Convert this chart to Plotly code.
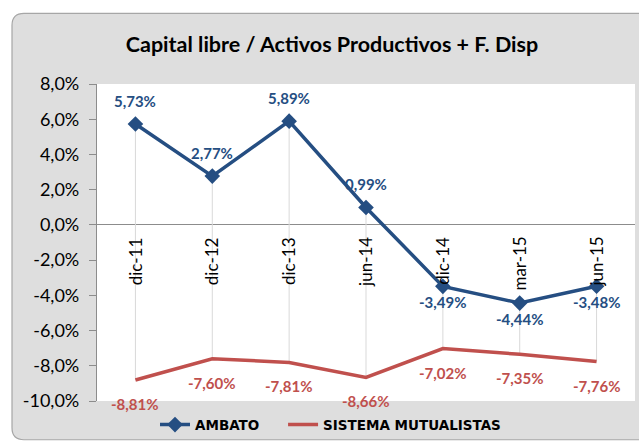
import plotly.graph_objects as go

categories = ["dic-11", "dic-12", "dic-13", "jun-14", "dic-14", "mar-15", "jun-15"]
ambato = [5.73, 2.77, 5.89, 0.99, -3.49, -4.44, -3.48]
sistema = [-8.81, -7.60, -7.81, -8.66, -7.02, -7.35, -7.76]
y_ticks = [8, 6, 4, 2, 0, -2, -4, -6, -8, -10]

BLUE = "#254E82"
RED = "#C0504D"
NUMFONT = "Lato"

W, H = 639, 444
L, T = 97, 84
R = W - 635
B = H - 403
pw, ph = W - L - R, H - T - B


def px_x(xr):  # window x -> paper fraction
    return (xr - L) / pw


def px_y(yr):  # window y -> paper fraction
    return (H - B - yr) / ph


def fmt(v):
    return f"{v:.2f}".replace(".", ",") + "%"


def fmt_tick(v):
    return f"{v:.1f}".replace(".", ",") + "%"


fig = go.Figure()

# high-low lines
hx, hy = [], []
for c, a, s in zip(categories, ambato, sistema):
    hx += [c, c, None]
    hy += [max(a, s), min(a, s), None]
fig.add_trace(go.Scatter(x=hx, y=hy, mode="lines", line=dict(color="#D9D9D9", width=1),
                         showlegend=False, hoverinfo="skip"))

fig.add_trace(go.Scatter(x=categories, y=ambato, name="AMBATO\u00a0\u00a0\u00a0\u00a0",
                         mode="lines+markers",
                         line=dict(color=BLUE, width=3.5),
                         marker=dict(symbol="diamond", size=12, color=BLUE)))
fig.add_trace(go.Scatter(x=categories, y=sistema, name="SISTEMA MUTUALISTAS", mode="lines",
                         line=dict(color=RED, width=3.5)))

ann = []
for c, v in zip(categories, ambato):
    ann.append(dict(x=c, y=v, text=fmt(v), showarrow=False, yanchor="middle",
                    yshift=23 if v >= 0 else -16,
                    font=dict(family=NUMFONT, size=15, color=BLUE, weight="bold")))
for c, v in zip(categories, sistema):
    ann.append(dict(x=c, y=v, text=fmt(v), showarrow=False, yanchor="middle", yshift=-24,
                    font=dict(family=NUMFONT, size=15, color=RED, weight="bold")))
for c in categories:
    ann.append(dict(x=c, y=0, text=c, showarrow=False, textangle=-90, yanchor="top",
                    xanchor="center", yshift=-10,
                    font=dict(family=NUMFONT, size=17, color="#000000")))

# gray rounded chart background (paper coordinates)
x0, x1 = px_x(12), px_x(660)
y1, y0 = px_y(13), px_y(442)
rx, ry = 12 / pw, 12 / ph
path = (f"M {x0+rx},{y1} L {x1},{y1} L {x1},{y0} L {x0+rx},{y0} "
        f"Q {x0},{y0} {x0},{y0+ry} L {x0},{y1-ry} Q {x0},{y1} {x0+rx},{y1} Z")

fig.update_layout(
    width=W, height=H,
    margin=dict(l=L, r=R, t=T, b=B),
    paper_bgcolor="white",
    plot_bgcolor="white",
    shapes=[dict(type="path", path=path, xref="paper", yref="paper", layer="below",
                 fillcolor="#DEDEDE", line=dict(color="#A6A6A6", width=1.2)),
            dict(type="rect", x0=0, x1=1, y0=0, y1=1, xref="paper", yref="paper",
                 layer="below", fillcolor="white", line=dict(width=0))],
    annotations=ann,
    title=dict(text="<b>Capital libre / Activos Productivos + F. Disp</b>",
               x=px_x(332), xref="paper", xanchor="center",
               y=1 - 44 / H, yref="container", yanchor="middle",
               font=dict(family=NUMFONT, size=21.5, color="#000000")),
    showlegend=True,
    legend=dict(orientation="h", x=px_x(155), xanchor="left",
                y=px_y(427), yanchor="middle", yref="paper",
                bgcolor="rgba(0,0,0,0)",
                font=dict(family="DejaVu Sans", size=13.5, color="#000000", weight="bold"),
                tracegroupgap=0),
    xaxis=dict(type="category", range=[-0.5, 6.5], showgrid=False, showticklabels=False,
               zeroline=False, showline=False, ticks=""),
    yaxis=dict(range=[-10, 8], tickvals=y_ticks, ticktext=[fmt_tick(v) for v in y_ticks],
               showgrid=False, zeroline=True, zerolinecolor="#8C8C8C", zerolinewidth=1.2,
               showline=True, linecolor="#8C8C8C", linewidth=1.2,
               ticks="outside", ticklen=7, tickcolor="#8C8C8C", ticklabelstandoff=6,
               tickfont=dict(family=NUMFONT, size=18, color="#000000")),
)

fig.write_html(
    "out.html",
    config={"displayModeBar": False},
    post_script="document.body.style.margin='0';document.body.style.overflow='hidden';",
)
